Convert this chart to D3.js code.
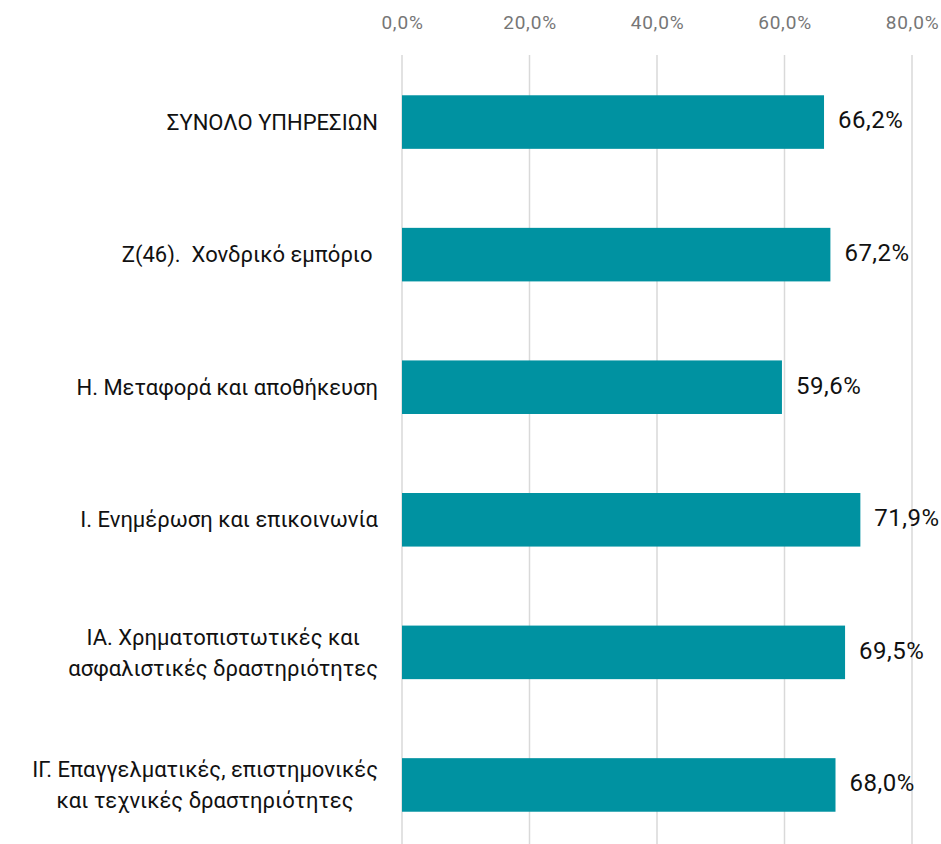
<!DOCTYPE html>
<html>
<head>
<meta charset="utf-8">
<script src="https://cdn.jsdelivr.net/npm/d3@7"></script>
<style>
  body { margin: 0; background: #fff; }
  svg { display: block; font-family: Roboto, "Noto Sans", sans-serif; }
</style>
</head>
<body>
<div id="chart"></div>
<script>
var width = 941,
    height = 844;

var categories = [
    ["ΣΥΝΟΛΟ ΥΠΗΡΕΣΙΩΝ"],
    ["Ζ(46).  Χονδρικό εμπόριο "],
    ["Η. Μεταφορά και αποθήκευση"],
    ["Ι. Ενημέρωση και επικοινωνία"],
    ["ΙΑ. Χρηματοπιστωτικές και", "ασφαλιστικές δραστηριότητες"],
    ["ΙΓ. Επαγγελματικές, επιστημονικές", "και τεχνικές δραστηριότητες"]
];
var values = [66.2, 67.2, 59.6, 71.9, 69.5, 68.0];
var ticks = [0, 20, 40, 60, 80];

var fmt = function(v) { return v.toFixed(1).replace(".", ",") + "%"; };

var x = d3.scaleLinear()
    .domain([0, 80])
    .range([402, 912]);

var y = d3.scaleBand()
    .domain(d3.range(values.length))
    .range([55.5, 851.5])
    .paddingInner(0.596)
    .paddingOuter(0.3);

var svg = d3.select("#chart")
    .append("svg")
    .attr("width", width)
    .attr("height", height);

// gridlines
svg.append("g")
    .selectAll("line")
    .data(ticks)
    .enter()
    .append("line")
    .attr("x1", function(d) { return x(d); })
    .attr("x2", function(d) { return x(d); })
    .attr("y1", 55)
    .attr("y2", height)
    .attr("stroke", "#d9d9d9")
    .attr("stroke-width", 1.5);

// top axis labels
var axis = d3.axisTop(x)
    .tickValues(ticks)
    .tickSize(0)
    .tickFormat(fmt);

var ax = svg.append("g")
    .attr("transform", "translate(0,18)")
    .call(axis);
ax.select(".domain").remove();
ax.selectAll("text")
    .attr("font-size", "19px")
    .attr("fill", "#767676")
    .attr("dy", "0.71em")
    .style("letter-spacing", "0.8px")
    .style("font-family", "Roboto, sans-serif");

// bars
svg.append("g")
    .selectAll("rect")
    .data(values)
    .enter()
    .append("rect")
    .attr("x", x(0))
    .attr("y", function(d, i) { return y(i); })
    .attr("width", function(d) { return x(d) - x(0); })
    .attr("height", y.bandwidth())
    .attr("fill", "#0092a1");

// value labels
svg.append("g")
    .selectAll("text")
    .data(values)
    .enter()
    .append("text")
    .attr("x", function(d) { return x(d) + 14; })
    .attr("y", function(d, i) { return y(i) + y.bandwidth() / 2 - 2; })
    .attr("dy", "0.35em")
    .attr("font-size", "24px")
    .style("letter-spacing", "0.5px")
    .attr("fill", "#111")
    .text(fmt);

// category labels
var labelRight = 378,
    lineH = 31;
var labels = svg.append("g")
    .selectAll("text")
    .data(categories)
    .enter()
    .append("text")
    .attr("font-size", "22px")
    .attr("fill", "#111")
    .style("white-space", "pre")
    .attr("xml:space", "preserve");

labels.each(function(lines, i) {
    var t = d3.select(this);
    var cy = y(i) + y.bandwidth() / 2;
    var top = cy - (lines.length - 1) * lineH / 2;
    lines.forEach(function(l, j) {
        t.append("tspan")
            .attr("y", top + j * lineH)
            .attr("dy", "0.35em")
            .text(l);
    });
    var spans = t.selectAll("tspan").nodes();
    if (lines.length === 1) {
        t.selectAll("tspan").attr("x", labelRight).attr("text-anchor", "end");
    } else {
        var w = d3.max(spans, function(s) { return s.getComputedTextLength(); });
        t.selectAll("tspan")
            .attr("x", labelRight - w / 2)
            .attr("text-anchor", "middle");
    }
});
</script>
</body>
</html>
